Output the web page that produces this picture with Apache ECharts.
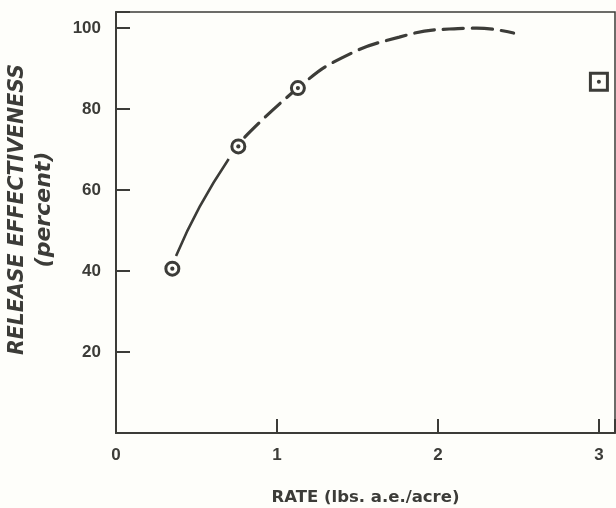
<!DOCTYPE html>
<html>
<head>
<meta charset="utf-8">
<script src="https://cdn.jsdelivr.net/npm/echarts@6/dist/echarts.min.js"></script>
<style>
html,body{margin:0;padding:0;background:#fefefa;}
#chart{width:616px;height:508px;}
</style>
</head>
<body>
<div id="chart"></div>
<script>
// ---- data ----
const xTickLabels = [0, 1, 2, 3];
const yTickLabels = [20, 40, 60, 80, 100];

// fitted response curve: solid part (between the first two observations)
const solidCurveX = [0.373, 0.52, 0.70];
const solidCurveY = [43.7, 55.9, 67.7];

// fitted response curve: dashed extrapolated part
const dashedCurveX = [0.80, 1.13, 1.40, 1.76, 2.07, 2.24, 2.47];
const dashedCurveY = [73.1, 85.2, 92.6, 97.8, 99.8, 100.0, 98.8];

// observations (circle markers)
const circleX = [0.35, 0.76, 1.13];
const circleY = [40.6, 70.8, 85.2];

// separate observation (square marker)
const squareX = [3.0];
const squareY = [86.8];

const xTitle = 'RATE (lbs. a.e./acre)';
const yTitle = 'RELEASE EFFECTIVENESS';
const ySubTitle = '(percent)';

// ---- chart ----
const ink = '#3c3c38';
const bg = '#fefefa';
const zip = (xs, ys) => xs.map((x, i) => [x, ys[i]]);

const chart = echarts.init(document.getElementById('chart'), null, {renderer: 'canvas'});
chart.setOption({
  backgroundColor: bg,
  animation: false,
  grid: {
    left: 116, right: 1, top: 12, bottom: 75,
    containLabel: false, outerBoundsMode: 'none',
    show: true, borderColor: ink, borderWidth: 1.5, backgroundColor: 'transparent'
  },
  xAxis: {
    type: 'value', min: 0, max: 3.1, interval: 1,
    splitLine: {show: false},
    axisLine: {lineStyle: {color: ink, width: 2}},
    axisTick: {inside: true, length: 14, lineStyle: {color: ink, width: 2}},
    axisLabel: {
      margin: 14, color: ink, fontFamily: 'Liberation Sans', fontWeight: 'bold', fontSize: 17,
      formatter: v => xTickLabels.includes(v) ? String(v) : ''
    },
    name: xTitle, nameLocation: 'middle', nameGap: 56,
    nameTextStyle: {color: ink, fontFamily: 'DejaVu Sans', fontWeight: 'bold', fontSize: 16.5}
  },
  yAxis: {
    type: 'value', min: 0, max: 104, interval: 20,
    splitLine: {show: false},
    axisLine: {lineStyle: {color: ink, width: 2}},
    axisTick: {inside: true, length: 14, lineStyle: {color: ink, width: 2}},
    axisLabel: {
      margin: 15, color: ink, fontFamily: 'Liberation Sans', fontWeight: 'bold', fontSize: 17,
      formatter: v => yTickLabels.includes(v) ? String(v) : ''
    },
    name: '{a|' + yTitle + '}\n{b|' + ySubTitle + '}',
    nameLocation: 'middle', nameGap: 58, nameRotate: 90,
    nameTextStyle: {
      padding: [0, 0, 0, 26],
      rich: {
        a: {color: ink, fontFamily: 'DejaVu Sans', fontWeight: 'bold', fontStyle: 'italic', fontSize: 20.5, lineHeight: 27, align: 'center'},
        b: {color: ink, fontFamily: 'DejaVu Sans', fontWeight: 'bold', fontStyle: 'italic', fontSize: 22, lineHeight: 27, align: 'center'}
      }
    }
  },
  series: [
    {
      type: 'line', data: zip(solidCurveX, solidCurveY), smooth: true, showSymbol: false,
      lineStyle: {color: ink, width: 2.6}, z: 2, silent: true
    },
    {
      type: 'line', data: zip(dashedCurveX, dashedCurveY), smooth: true, showSymbol: false,
      lineStyle: {color: ink, width: 3.2, type: [20, 9], cap: 'round'}, z: 2, silent: true
    },
    {
      type: 'scatter', data: zip(circleX, circleY), symbol: 'circle', symbolSize: 13,
      itemStyle: {color: bg, borderColor: ink, borderWidth: 3, opacity: 1}, z: 5
    },
    {
      type: 'scatter', data: zip(circleX, circleY), symbol: 'circle', symbolSize: 4.2,
      itemStyle: {color: ink, opacity: 1}, z: 6
    },
    {
      type: 'scatter', data: zip(squareX, squareY), symbol: 'rect', symbolSize: 17,
      itemStyle: {color: bg, borderColor: ink, borderWidth: 3, opacity: 1}, z: 5
    },
    {
      type: 'scatter', data: zip(squareX, squareY), symbol: 'circle', symbolSize: 4,
      itemStyle: {color: ink, opacity: 1}, z: 6
    }
  ]
});
</script>
</body>
</html>
